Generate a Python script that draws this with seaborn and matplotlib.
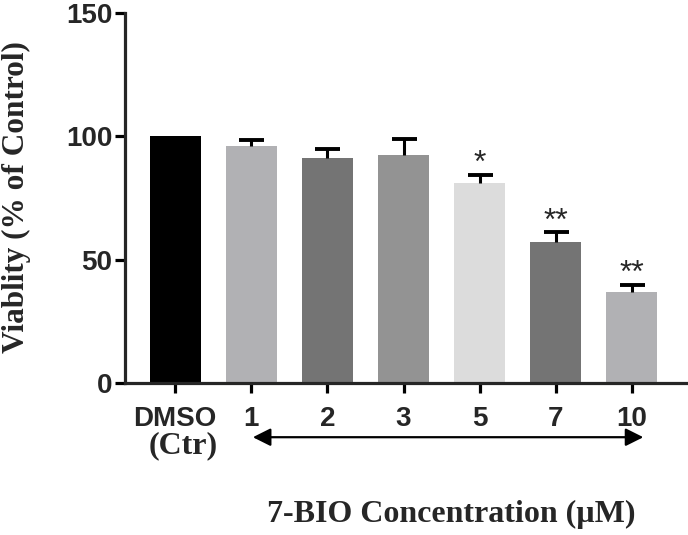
"""
7-BIO viability bar chart
Recreated with seaborn / matplotlib
"""

import numpy as np
import pandas as pd
import matplotlib
matplotlib.use('Agg')
import matplotlib.pyplot as plt
import seaborn as sns

# ----------------------------
# DATA
# ----------------------------
groups = ['DMSO', '1', '2', '3', '5', '7', '10']
viability = [100.0, 96.2, 91.2, 92.7, 81.1, 57.1, 37.0]
sem = [0.0, 2.5, 3.9, 6.2, 3.4, 4.1, 2.9]
stars = ['', '', '', '', '*', '**', '**']
bar_colors = ['#000000', '#b0b1b5', '#747474', '#939393', '#dcdcdc', '#747474', '#b0b1b5']

SANS = 'Liberation Sans'
SERIF = 'Liberation Serif'


def build_frame():
    """Put the bar values in a DataFrame for seaborn."""
    return pd.DataFrame({'group': groups, 'viability': viability, 'sem': sem})


def style_axes(ax):
    """Prism-like axis styling: thick left/bottom spines, outward ticks."""
    sns.despine(ax=ax)
    for side in ['left', 'bottom']:
        ax.spines[side].set_linewidth(2.3)
    ax.tick_params(axis='both', width=2.3, length=7, direction='out',
                   bottom=True, left=True, color='black')
    ax.tick_params(axis='y', pad=2)
    ax.tick_params(axis='x', pad=9)
    ax.set_ylim(0, 150)
    ax.set_yticks([0, 50, 100, 150])
    ax.set_xlim(-0.66, len(groups) - 1 + 0.71)
    for lab in ax.get_yticklabels() + ax.get_xticklabels():
        lab.set_fontfamily(SANS)
        lab.set_fontweight('bold')
        lab.set_fontsize(20)


def plot_viability(df, save_path):
    fig = plt.figure(figsize=(6.88, 5.35), dpi=100)
    ax = fig.add_axes([0.1817, 0.2832, 0.8153, 0.6925])

    sns.barplot(data=df, x='group', y='viability', hue='group',
                palette=bar_colors, legend=False, width=0.67,
                linewidth=0, errorbar=None, ax=ax)

    # upper-only SEM bars
    x = np.arange(len(df))
    err = df['sem'].to_numpy()
    _, caps, _ = ax.errorbar(x[1:], df['viability'].to_numpy()[1:],
                             yerr=[np.zeros(len(x) - 1), err[1:]],
                             fmt='none', ecolor='black', elinewidth=2.2,
                             capsize=9, capthick=2.8, zorder=3)
    caps[0].set_visible(False)

    # significance marks
    for xi, m, e, s in zip(x, df['viability'], err, stars):
        if s:
            ax.annotate(s, xy=(xi, m + e), xytext=(0, 2), textcoords='offset points',
                        ha='center', va='baseline', fontsize=23, fontfamily=SANS)

    style_axes(ax)
    ax.set_xlabel('')
    ax.set_ylabel('Viablity (% of Control)', fontfamily=SERIF, fontweight='bold',
                  fontsize=22.5)
    ax.yaxis.set_label_coords(-0.168, 0.502)

    # extra label under DMSO and the concentration arrow
    ax.text(0.1, -0.168, '(Ctr)', transform=ax.get_xaxis_transform(),
            ha='center', va='center', fontfamily=SERIF, fontweight='bold', fontsize=23)
    ax.annotate('', xy=(6.15, -0.145), xytext=(1.02, -0.145),
                xycoords=ax.get_xaxis_transform(), textcoords=ax.get_xaxis_transform(),
                arrowprops=dict(arrowstyle='<|-|>', color='black', lw=1.6,
                                mutation_scale=27, shrinkA=0, shrinkB=0),
                annotation_clip=False)

    fig.text(451 / 688, 1 - 514 / 535, '7-BIO Concentration (\u00b5M)',
             ha='center', va='center', fontfamily=SERIF, fontweight='bold', fontsize=23)

    fig.savefig(save_path, dpi=100)
    plt.close(fig)


def main():
    sns.set_style('white')
    plt.rcParams['font.family'] = [SANS, 'DejaVu Sans']
    df = build_frame()
    plot_viability(df, 'out.png')


if __name__ == "__main__":
    main()
